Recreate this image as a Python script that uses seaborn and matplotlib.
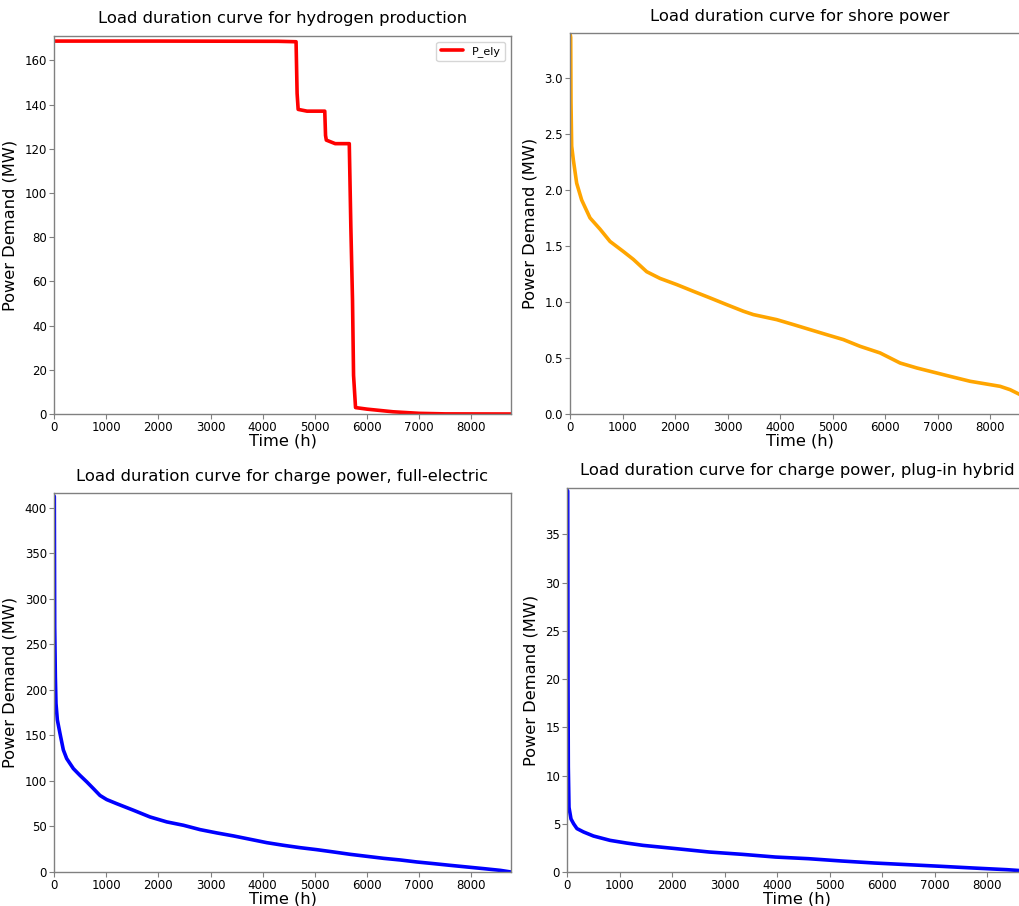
import numpy as np
import pandas as pd
import seaborn as sns
import matplotlib
matplotlib.use("Agg")
import matplotlib.pyplot as plt

sns.set_style("white")
plt.rcParams['font.family'] = ['DejaVu Sans']
plt.rcParams['text.color'] = 'black'
plt.rcParams['axes.labelcolor'] = 'black'
plt.rcParams['xtick.color'] = 'black'
plt.rcParams['ytick.color'] = 'black'

# Hydrogen production (electrolyser) load duration curve
h2_hours = [0, 2000, 4300, 4640, 4660, 4680, 4850, 5190, 5205, 5220, 5390, 5660,
            5690, 5722, 5742, 5780, 6000, 6500, 7000, 7500, 8760]
h2_power = [168.7, 168.7, 168.6, 168.4, 145.0, 137.8, 137.0, 137.0, 126.0, 123.9, 122.3, 122.3,
            84.7, 51.5, 17.5, 2.9, 2.2, 1.0, 0.3, 0.05, 0.0]

# Shore power load duration curve
shore_hours = [0, 13, 19, 32, 63, 127, 222, 381, 571, 762, 1016, 1206, 1460, 1714, 2032,
               2349, 2667, 2984, 3302, 3492, 3937, 4254, 4571, 4889, 5206, 5524, 5905,
               6286, 6603, 6857, 7238, 7619, 8000, 8190, 8381, 8571, 8760]
shore_power = [3.40, 3.36, 2.78, 2.39, 2.27, 2.06, 1.91, 1.75, 1.65, 1.54, 1.45, 1.38, 1.27,
               1.21, 1.155, 1.095, 1.036, 0.976, 0.917, 0.887, 0.842, 0.798, 0.753, 0.708,
               0.664, 0.604, 0.545, 0.455, 0.411, 0.381, 0.336, 0.292, 0.262, 0.247, 0.217,
               0.173, 0.12]

# Charge power, full-electric
fe_hours = [0, 6, 13, 26, 38, 64, 115, 179, 243, 371, 499, 627, 754, 882, 1010, 1202, 1522,
            1841, 2161, 2481, 2801, 3120, 3440, 3760, 4079, 4399, 4719, 5038, 5358, 5678,
            5997, 6317, 6637, 6957, 7276, 7596, 7916, 8235, 8555, 8760]
fe_power = [413, 412, 269, 214, 185, 167, 152, 134, 124.5, 113.5, 106, 99, 91.6, 84, 79.5, 75,
            67.8, 60.4, 55, 51.3, 46.5, 42.9, 39.6, 35.9, 32.2, 29.3, 26.7, 24.5, 22, 19.4,
            17.2, 15, 13.2, 11, 9.2, 7.3, 5.5, 3.7, 1.8, 0.0]

# Charge power, plug-in hybrid
ph_hours = [0, 13, 19, 25, 38, 76, 126, 189, 315, 504, 819, 1134, 1449, 2079, 2709, 3339,
            3969, 4598, 5228, 5858, 6488, 7118, 7748, 8378, 8567, 8760]
ph_power = [39.6, 39.5, 19.5, 10.9, 6.7, 5.5, 5.0, 4.5, 4.15, 3.73, 3.28, 3.0, 2.76, 2.42, 2.07,
            1.83, 1.55, 1.38, 1.14, 0.93, 0.76, 0.59, 0.41, 0.24, 0.17, 0.10]

titles = ["Load duration curve for hydrogen production",
          "Load duration curve for shore power",
          "Load duration curve for charge power, full-electric",
          "Load duration curve for charge power, plug-in hybrid"]
xlabel = "Time (h)"
ylabel = "Power Demand (MW)"

W, H = 1020, 906
fig = plt.figure(figsize=(W / 100, H / 100), dpi=100)

def box(l, t, r, b):
    return [l / W, 1 - b / H, (r - l) / W, (b - t) / H]

axes = [fig.add_axes(box(54, 36, 511, 414)),
        fig.add_axes(box(570, 33, 1030, 414)),
        fig.add_axes(box(54, 493, 511, 872)),
        fig.add_axes(box(567, 488, 1027, 872))]

specs = [
    (h2_hours, h2_power, "red", 171.0, "P_ely"),
    (shore_hours, shore_power, "orange", 3.40, None),
    (fe_hours, fe_power, "blue", 416.0, None),
    (ph_hours, ph_power, "blue", 39.8, None),
]

for ax, (xs, ys, col, ytop, lab), title in zip(axes, specs, titles):
    df = pd.DataFrame({"Time": xs, "Power": ys})
    sns.lineplot(data=df, x="Time", y="Power", ax=ax, color=col, linewidth=2.6,
                 label=lab, legend=bool(lab))
    ax.set_xlim(0, 8760)
    ax.set_ylim(0, ytop)
    ax.set_title(title, fontsize=11.8, pad=9)
    ax.set_xlabel(xlabel, fontsize=11.7, labelpad=0)
    ax.set_ylabel(ylabel, fontsize=11.7, labelpad=5)
    ax.tick_params(axis="both", labelsize=8.5, length=3.5, width=0.8, color="#808080",
                   left=True, bottom=True, pad=1.5)
    for sp in ax.spines.values():
        sp.set_color("#808080")
        sp.set_linewidth(1.0)
    ax.set_xticks(range(0, 9000, 1000))
    if lab:
        ax.legend(loc="upper right", fontsize=8, frameon=True, handlelength=2.0)

fig.savefig("out.png", dpi=100)
